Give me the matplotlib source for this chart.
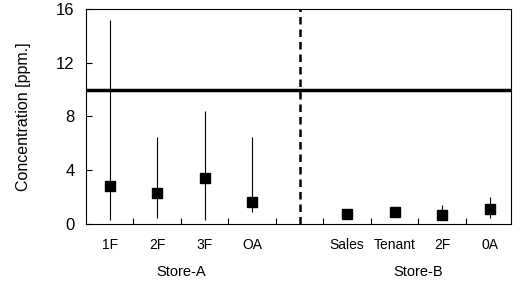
import matplotlib
matplotlib.use("Agg")
import matplotlib.pyplot as plt
import numpy as np

plt.rcParams['font.family'] = ['Liberation Sans', 'DejaVu Sans']

labels = ["1F", "2F", "3F", "OA", "Sales", "Tenant", "2F", "0A"]
positions = [1, 2, 3, 4, 6, 7, 8, 9]
means = [2.8, 2.3, 3.4, 1.6, 0.75, 0.85, 0.65, 1.1]
lows = [0.3, 0.4, 0.3, 0.9, 0.75, 0.85, 0.4, 0.4]
highs = [15.2, 6.5, 8.4, 6.5, 0.75, 0.85, 1.4, 2.0]
groups = ["Store-A", "Store-B"]
group_pos = [2.5, 7.5]
limit = 10
divider = 5

fig = plt.figure(figsize=(5.2, 2.87), dpi=100)
ax = fig.add_axes([0.165, 0.22, 0.818, 0.749])

m = np.array(means)
yerr = [m - np.array(lows), np.array(highs) - m]
ax.errorbar(positions, means, yerr=yerr, fmt='s', color='black', ms=6.5,
            elinewidth=0.8, capsize=0)
ax.axhline(limit, color='black', lw=2.5)
ax.axvline(divider, color='black', lw=1.8, ls=(0, (3, 2)))

ax.set_xlim(0.5, 9.45)
ax.set_ylim(0, 16)
ax.set_yticks([0, 4, 8, 12, 16])
ax.set_xticks(np.arange(1.5, 9.5, 1))
ax.set_xticklabels([])
ax.tick_params(direction='in', length=4, width=0.8, labelsize=12)
ax.tick_params(axis='y', pad=8)
for s in ax.spines.values():
    s.set_linewidth(0.8)

for p, l in zip(positions, labels):
    ax.text(p, -1.6, l, ha='center', va='center', fontsize=10)
for p, g in zip(group_pos, groups):
    ax.text(p, -3.6, g, ha='center', va='center', fontsize=10.5)

ax.set_ylabel("Concentration [ppm.]", fontsize=11.5, labelpad=18)

fig.savefig("out.png", dpi=100)
